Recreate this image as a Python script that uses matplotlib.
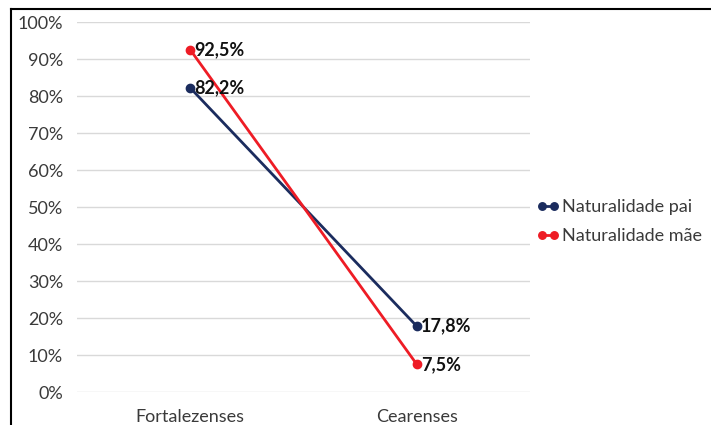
import matplotlib
matplotlib.use("Agg")
import matplotlib.pyplot as plt
from matplotlib.lines import Line2D
from matplotlib.ticker import FuncFormatter

categories = ["Fortalezenses", "Cearenses"]
pai = [82.2, 17.8]
mae = [92.5, 7.5]
series_names = ["Naturalidade pai", "Naturalidade mãe"]
colors = ["#1b2c5e", "#ee1c25"]

plt.rcParams["font.family"] = ["Lato", "DejaVu Sans"]

fig = plt.figure(figsize=(7.11, 4.25), dpi=100)
ax = fig.add_axes([0.1083, 0.0776, 0.6371, 0.8706])

x = list(range(len(categories)))
for vals, name, c in zip([pai, mae], series_names, colors):
    ax.plot(x, vals, color=c, lw=2.0, marker="o", ms=6, label=name, zorder=3)
    for xi, v in zip(x, vals):
        ax.annotate(f"{v:.1f}%".replace(".", ","), (xi, v), xytext=(3, 0),
                    textcoords="offset points", ha="left", va="center",
                    fontsize=13, fontweight="bold", color="#111111", zorder=4)

ax.set_xlim(-0.5, 1.5)
ax.set_ylim(0, 100)
ax.set_yticks(range(0, 101, 10))
ax.yaxis.set_major_formatter(FuncFormatter(lambda v, p: f"{v:.0f}%"))
ax.set_xticks(x)
ax.set_xticklabels(categories)
ax.grid(axis="y", color="#d9d9d9", lw=1)
ax.set_axisbelow(True)
for s in ax.spines.values():
    s.set_visible(False)
ax.tick_params(length=0, labelsize=13, colors="#3a3a3a")
ax.tick_params(axis="y", pad=10)
ax.tick_params(axis="x", pad=12)

leg = ax.legend(loc="center left", bbox_to_anchor=(0.998, 0.461), frameon=False,
                fontsize=13, handlelength=1.3, handletextpad=0.1, labelspacing=0.72,
                borderaxespad=0, numpoints=2, markerscale=0.9)
for t in leg.get_texts():
    t.set_color("#3a3a3a")

# outer frame edges
fig.add_artist(Line2D([11 / 711, 1], [1 - 9 / 425, 1 - 9 / 425], color="black", lw=1.5,
                      transform=fig.transFigure))
fig.add_artist(Line2D([11 / 711, 11 / 711], [0, 1 - 9 / 425], color="black", lw=1.5,
                      transform=fig.transFigure))

fig.savefig("out.png", dpi=100)
